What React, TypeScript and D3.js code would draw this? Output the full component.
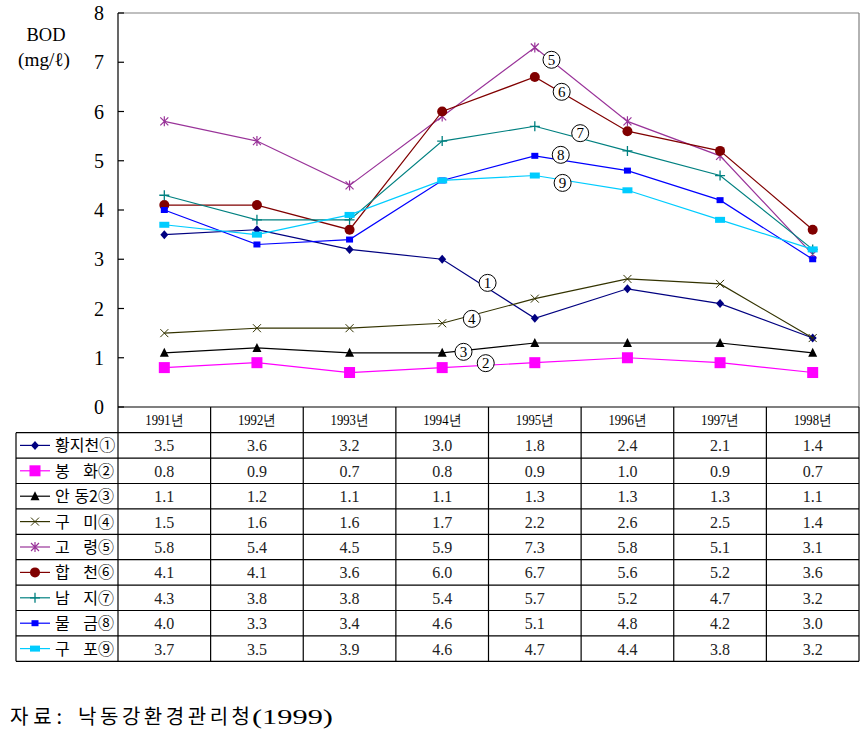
import React from "react";
import * as d3 from "d3";

const years = ["1991년", "1992년", "1993년", "1994년", "1995년", "1996년", "1997년", "1998년"];
const yTicks = [0, 1, 2, 3, 4, 5, 6, 7, 8];

const names = ["황지천", "봉 화", "안 동2", "구 미", "고 령", "합 천", "남 지", "물 금", "구 포"];
const circled = ["①", "②", "③", "④", "⑤", "⑥", "⑦", "⑧", "⑨"];

const s1 = [3.5, 3.6, 3.2, 3.0, 1.8, 2.4, 2.1, 1.4];
const s2 = [0.8, 0.9, 0.7, 0.8, 0.9, 1.0, 0.9, 0.7];
const s3 = [1.1, 1.2, 1.1, 1.1, 1.3, 1.3, 1.3, 1.1];
const s4 = [1.5, 1.6, 1.6, 1.7, 2.2, 2.6, 2.5, 1.4];
const s5 = [5.8, 5.4, 4.5, 5.9, 7.3, 5.8, 5.1, 3.1];
const s6 = [4.1, 4.1, 3.6, 6.0, 6.7, 5.6, 5.2, 3.6];
const s7 = [4.3, 3.8, 3.8, 5.4, 5.7, 5.2, 4.7, 3.2];
const s8 = [4.0, 3.3, 3.4, 4.6, 5.1, 4.8, 4.2, 3.0];
const s9 = [3.7, 3.5, 3.9, 4.6, 4.7, 4.4, 3.8, 3.2];
const seriesValues = [s1, s2, s3, s4, s5, s6, s7, s8, s9];

const colors = ["#000080", "#FF00FF", "#000000", "#333300", "#993399", "#800000", "#008080", "#0000FF", "#00CCFF"];
const markers = ["diamond", "bigsquare", "triangle", "x", "star", "circle", "plus", "smallsquare", "wide"];

// circled-number annotation anchors: [category position, value]
const annoPos: [number, number][] = [
  [3.49, 2.52], [3.47, 0.89], [3.23, 1.12], [3.32, 1.79],
  [4.18, 7.05], [4.29, 6.40], [4.49, 5.56], [4.28, 5.12], [4.30, 4.55],
];

const SERIF = "'Liberation Serif', 'DejaVu Serif', serif";
const KR = "'Noto Sans CJK KR', sans-serif";

function Marker({ type, x, y, color }: { type: string; x: number; y: number; color: string }) {
  switch (type) {
    case "diamond":
      return <path d={`M${x},${y - 4.5}L${x + 4},${y}L${x},${y + 4.5}L${x - 4},${y}Z`} fill={color} />;
    case "bigsquare":
      return <rect x={x - 5.5} y={y - 5.5} width={11} height={11} fill={color} />;
    case "triangle":
      return <path d={`M${x},${y - 5}L${x + 4.5},${y + 4}L${x - 4.5},${y + 4}Z`} fill={color} />;
    case "x":
      return <path d={`M${x - 4},${y - 4}L${x + 4},${y + 4}M${x - 4},${y + 4}L${x + 4},${y - 4}`} stroke={color} strokeWidth={1} />;
    case "star":
      return (
        <path
          d={`M${x - 4},${y - 4}L${x + 4},${y + 4}M${x - 4},${y + 4}L${x + 4},${y - 4}M${x},${y - 5}L${x},${y + 5}`}
          stroke={color}
          strokeWidth={1.2}
        />
      );
    case "circle":
      return <circle cx={x} cy={y} r={5} fill={color} />;
    case "plus":
      return <path d={`M${x - 5},${y}L${x + 5},${y}M${x},${y - 5}L${x},${y + 5}`} stroke={color} strokeWidth={1.3} />;
    case "smallsquare":
      return <rect x={x - 3.5} y={y - 3} width={7} height={6} fill={color} />;
    case "wide":
      return <rect x={x - 5} y={y - 3} width={10} height={6} fill={color} />;
    default:
      return null;
  }
}

export default function App() {
  const W = 865, H = 743;
  const left = 118, right = 859, top = 13, bottom = 407;
  const x = d3.scaleBand<string>().domain(years).range([left, right]).padding(0);
  const bw = x.bandwidth();
  const cx = (i: number) => left + bw * (i + 0.5);
  const y = d3.scaleLinear().domain([0, 8]).range([bottom, top]);
  const line = d3.line<number>().x((_, i) => cx(i)).y((d) => y(d));

  const headerH = 25.7;
  const rowH = 25.4;
  const tableTop = bottom;
  const rowsTop = tableTop + headerH;
  const tableLeft = 16;
  const tableBottom = rowsTop + rowH * names.length;

  return (
    <svg width={W} height={H} style={{ position: "absolute", left: 0, top: 0, background: "#fff" }}>
      <rect width={W} height={H} fill="#fff" />
      {/* frame */}
      <line x1={left} x2={right} y1={top} y2={top} stroke="#808080" strokeWidth={1.2} />
      <line x1={right} x2={right} y1={top} y2={bottom} stroke="#808080" strokeWidth={1.2} />
      <line x1={left} x2={left} y1={top} y2={tableBottom} stroke="#000" strokeWidth={1.2} />
      {/* y ticks */}
      {yTicks.map((t) => (
        <g key={t}>
          <line x1={left} x2={left + 6} y1={y(t)} y2={y(t)} stroke="#000" strokeWidth={1.2} />
          <text x={104} y={y(t) + 7} textAnchor="end" fontFamily={SERIF} fontSize={20} fill="#000">
            {t}
          </text>
        </g>
      ))}
      {/* axis title */}
      <text x={46} y={41} textAnchor="middle" fontFamily={SERIF} fontSize={19} textLength={39} lengthAdjust="spacingAndGlyphs">BOD</text>
      <text x={44} y={66} textAnchor="middle" fontFamily={SERIF} fontSize={19} textLength={52} lengthAdjust="spacingAndGlyphs">(mg/ℓ)</text>

      {/* series */}
      {seriesValues.map((vals, si) => (
        <g key={si}>
          <path d={line(vals) || ""} fill="none" stroke={colors[si]} strokeWidth={1.2} />
          {vals.map((v, i) => (
            <Marker key={i} type={markers[si]} x={cx(i)} y={y(v)} color={colors[si]} />
          ))}
        </g>
      ))}

      {/* circled annotations */}
      {annoPos.map(([p, v], i) => {
        const ax = cx(p);
        const ay = y(v);
        return (
          <g key={i}>
            <circle cx={ax} cy={ay} r={8.5} fill="#fff" stroke="#000" strokeWidth={1} />
            <text x={ax} y={ay + 5} textAnchor="middle" fontFamily={SERIF} fontSize={15}>{i + 1}</text>
          </g>
        );
      })}

      {/* table */}
      <line x1={left} x2={right} y1={tableTop} y2={tableTop} stroke="#000" strokeWidth={1.2} />
      {years.map((yr, i) => (
        <g key={yr}>
          <line x1={left + bw * (i + 1)} x2={left + bw * (i + 1)} y1={tableTop} y2={tableBottom} stroke="#000" strokeWidth={1.2} />
          <text x={cx(i)} y={tableTop + 18} textAnchor="middle" fontFamily={SERIF} fontSize={15} textLength={38} lengthAdjust="spacingAndGlyphs">
            {yr}
          </text>
        </g>
      ))}
      <line x1={tableLeft} x2={tableLeft} y1={rowsTop} y2={tableBottom} stroke="#000" strokeWidth={1.2} />
      {names.map((nm, si) => {
        const ry = rowsTop + rowH * si;
        const my = ry + rowH / 2;
        const parts = nm.split(" ");
        return (
          <g key={nm}>
            <line x1={tableLeft} x2={right} y1={ry} y2={ry} stroke="#000" strokeWidth={1.2} />
            <line x1={20} x2={50} y1={my} y2={my} stroke={colors[si]} strokeWidth={1.2} />
            <Marker type={markers[si]} x={35} y={my} color={colors[si]} />
            {parts.length === 1 ? (
              <text x={55} y={my + 6} fontFamily={KR} fontSize={16}>{parts[0] + circled[si]}</text>
            ) : (
              <>
                <text x={55} y={my + 6} fontFamily={KR} fontSize={16}>{parts[0]}</text>
                <text x={114} y={my + 6} textAnchor="end" fontFamily={KR} fontSize={16}>{parts[1] + circled[si]}</text>
              </>
            )}
            {seriesValues[si].map((v, i) => (
              <text key={i} x={cx(i)} y={my + 6} textAnchor="middle" fontFamily={SERIF} fontSize={16} fill="#222">
                {v.toFixed(1)}
              </text>
            ))}
          </g>
        );
      })}
      <line x1={tableLeft} x2={right} y1={tableBottom} y2={tableBottom} stroke="#000" strokeWidth={1.2} />

      {/* source */}
      <text x={10} y={724} fontFamily={KR} fontSize={20} textLength={52} lengthAdjust="spacing">자료:</text>
      <text x={78} y={724} fontFamily={KR} fontSize={20} textLength={172} lengthAdjust="spacing">낙동강환경관리청</text>
      <text x={252} y={724} fontFamily={SERIF} fontSize={21} textLength={81} lengthAdjust="spacingAndGlyphs">(1999)</text>
    </svg>
  );
}
